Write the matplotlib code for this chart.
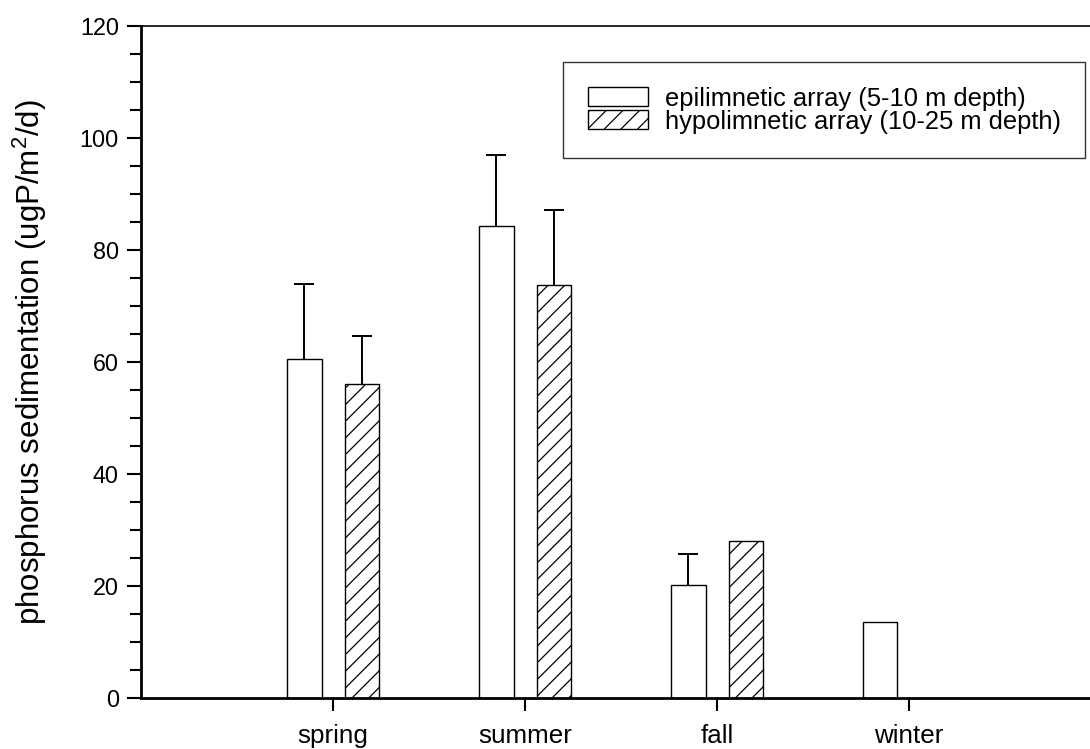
import numpy as np
import matplotlib
matplotlib.use("Agg")
import matplotlib.pyplot as plt
from matplotlib.ticker import MultipleLocator

plt.rcParams["font.family"] = ["Liberation Sans", "DejaVu Sans"]
plt.rcParams["mathtext.fontset"] = "custom"
plt.rcParams["mathtext.rm"] = "Liberation Sans"
plt.rcParams["mathtext.it"] = "Liberation Sans:italic"
plt.rcParams["hatch.linewidth"] = 0.9

seasons = ["spring", "summer", "fall", "winter"]
epi_mean = [60.6, 84.3, 20.1, 13.5]
epi_err = [13.3, 12.6, 5.7, 0.0]
hypo_mean = [56.1, 73.7, 28.0, 0.0]
hypo_err = [8.5, 13.4, 0.0, 0.0]
labels = ["epilimnetic array (5-10 m depth)", "hypolimnetic array (10-25 m depth)"]

fig = plt.figure(figsize=(10.9, 7.49), dpi=100)
ax = fig.add_axes([0.1294, 0.0681, 0.8807, 0.8972])

x = np.arange(1, len(seasons) + 1)
w = 0.18
off = 0.15

ax.bar(x - off, epi_mean, w, color="white", edgecolor="black", linewidth=1.0,
       label=labels[0], zorder=2)
ax.bar(x + off, hypo_mean, w, color="white", edgecolor="black", linewidth=1.0,
       hatch="//", label=labels[1], zorder=2)

# upper-only error bars (no cap at bar top)
for xs, m, e in [(x - off, epi_mean, epi_err), (x + off, hypo_mean, hypo_err)]:
    for xi, mi, ei in zip(xs, m, e):
        if ei > 0:
            ax.vlines(xi, mi, mi + ei, color="black", linewidth=1.4, zorder=3)
            ax.plot(xi, mi + ei, marker="_", color="black", markersize=15,
                    markeredgewidth=1.4, zorder=3)

ax.set_xlim(0, 5)
ax.set_ylim(0, 120)
ax.set_xticks(x)
ax.set_xticklabels(seasons)
ax.yaxis.set_major_locator(MultipleLocator(20))
ax.yaxis.set_minor_locator(MultipleLocator(5))
ax.tick_params(axis="both", direction="out")
ax.tick_params(axis="y", which="major", length=10, width=1.5, pad=6, labelsize=16.8)
ax.tick_params(axis="y", which="minor", length=8, width=1.5)
ax.tick_params(axis="x", which="major", length=9, width=1.5, pad=10, labelsize=18.7)

ax.spines["right"].set_visible(False)
ax.spines["left"].set_linewidth(2)
ax.spines["bottom"].set_linewidth(2)
ax.spines["top"].set_linewidth(1.2)

ax.set_ylabel("phosphorus sedimentation (ugP/m$^2$/d)", fontsize=22.5, labelpad=22)

leg = ax.legend(loc="upper left", bbox_to_anchor=(0.44, 0.946), fontsize=18.4,
                frameon=True, fancybox=False, edgecolor="black",
                handlelength=2.35, handleheight=0.74, handletextpad=0.67,
                labelspacing=-0.04, borderpad=0.95, borderaxespad=0)
leg.get_frame().set_linewidth(1.0)

fig.savefig("out.png", dpi=100)
